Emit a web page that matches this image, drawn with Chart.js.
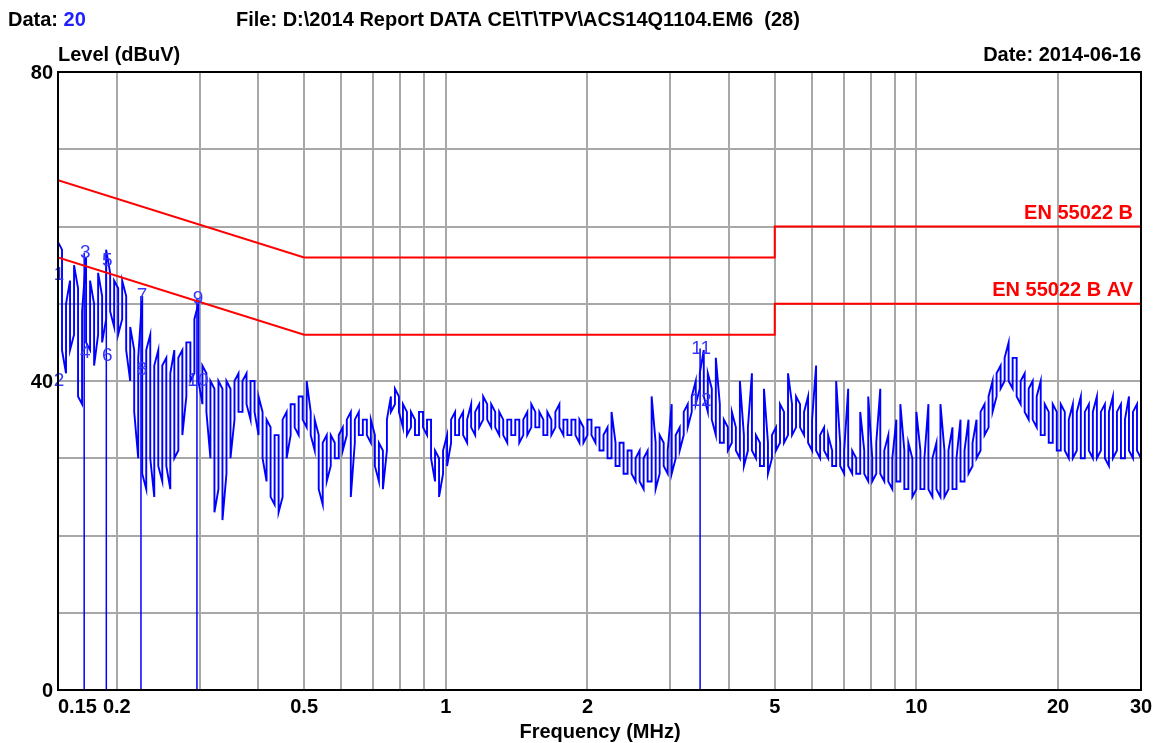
<!DOCTYPE html>
<html>
<head>
<meta charset="utf-8">
<script src="https://cdn.jsdelivr.net/npm/chart.js@4.4.1/dist/chart.umd.min.js"></script>
<style>
  html, body { margin: 0; padding: 0; background: #fff; }
</style>
</head>
<body>
<canvas id="emiChart" width="1157" height="743"></canvas>
<script>
// receiver sweep 0.15 - 30 MHz, one column per sweep step:
// highest and lowest level seen in each step (dBuV)
const sweepStart = 0.15;
const sweepStop = 30;
const peakLevels = [
  58, 57, 50, 53, 55, 52, 49, 56, 53, 50,
  54, 51, 57, 54, 53, 52, 53, 51, 47, 44,
  43, 51, 44, 46, 42, 44, 42, 43, 41, 44,
  43, 44, 45, 45, 48, 50, 42, 41, 40, 39,
  40, 39, 40, 39, 40, 41, 40, 41, 40, 40,
  38, 36, 35, 34, 33, 33, 35, 36, 37, 37,
  38, 38, 40, 36, 35, 33, 32, 33, 33, 32,
  33, 34, 35, 36, 35, 36, 35, 35, 35, 33,
  32, 31, 35, 38, 39, 38, 37, 36, 36, 35,
  36, 36, 35, 35, 31, 30, 31, 33, 35, 36,
  35, 36, 35, 37, 36, 37, 38, 37, 37, 36,
  36, 35, 35, 35, 35, 35, 35, 36, 37, 36,
  36, 35, 36, 35, 36, 37, 35, 35, 35, 35,
  35, 34, 35, 35, 34, 34, 33, 34, 36, 32,
  32, 32, 31, 31, 30, 31, 30, 31, 38, 32,
  33, 32, 31, 37, 33, 34, 36, 37, 38, 40,
  41, 44, 41, 39, 43, 37, 35, 34, 36, 34,
  40, 33, 34, 41, 33, 32, 39, 32, 33, 34,
  37, 36, 41, 37, 38, 37, 36, 38, 35, 42,
  33, 34, 33, 31, 40, 32, 31, 39, 31, 30,
  36, 31, 38, 30, 32, 39, 31, 33, 30, 35,
  37, 31, 32, 30, 36, 31, 30, 37, 30, 32,
  37, 31, 31, 34, 30, 35, 31, 35, 32, 35,
  36, 37, 38, 40, 41, 42, 43, 45, 43, 43,
  40, 41, 39, 40, 38, 40, 37, 36, 37, 36,
  37, 36, 35, 37, 36, 38, 36, 37, 36, 38,
  36, 37, 36, 38, 36, 37, 35, 38, 36, 37,
  36
];
const floorLevels = [
  52, 44, 41, 44, 46, 38, 37, 45, 44, 42,
  46, 45, 48, 49, 47, 46, 48, 44, 40, 36,
  30, 28, 26, 30, 25, 29, 27, 29, 26, 30,
  31, 33, 38, 40, 41, 40, 37, 36, 30, 23,
  26, 22, 28, 30, 35, 36, 36, 37, 35, 36,
  33, 30, 27, 25, 24, 23, 25, 30, 33, 34,
  33, 35, 34, 33, 31, 26, 24, 27, 29, 30,
  30, 31, 33, 25, 32, 33, 33, 33, 32, 29,
  27, 26, 31, 36, 37, 36, 34, 33, 34, 33,
  33, 34, 33, 30, 27, 25, 28, 29, 32, 33,
  33, 33, 32, 34, 33, 34, 35, 35, 34, 34,
  33, 33, 32, 33, 33, 32, 33, 33, 34, 34,
  34, 33, 33, 33, 34, 34, 33, 33, 33, 33,
  32, 32, 33, 33, 32, 31, 31, 30, 30, 29,
  29, 28, 28, 28, 27, 27, 26, 27, 27, 26,
  28, 29, 28, 28, 30, 31, 33, 34, 36, 37,
  39, 38, 36, 35, 33, 32, 32, 31, 32, 31,
  30, 29, 31, 31, 30, 29, 29, 28, 30, 31,
  32, 32, 33, 33, 34, 34, 33, 32, 31, 31,
  30, 31, 30, 29, 29, 29, 28, 29, 28, 28,
  28, 28, 27, 27, 28, 28, 27, 27, 26, 27,
  27, 26, 26, 25, 26, 26, 26, 26, 25, 26,
  25, 25, 26, 26, 26, 27, 27, 28, 29, 30,
  31, 33, 34, 36, 38, 39, 40, 40, 39, 38,
  37, 36, 35, 35, 34, 33, 33, 32, 32, 31,
  31, 31, 30, 30, 31, 30, 30, 31, 30, 30,
  31, 30, 29, 30, 31, 30, 30, 31, 30, 31,
  30
];

// EN 55022 class B limits
const limitFreq = [0.15, 0.5, 5, 5, 30];
const qpLimit = [66, 56, 56, 60, 60];
const avLimit = [56, 46, 46, 50, 50];

// markers: odd = QP reading, even = AV reading
const markerNo = [1, 2, 3, 4, 5, 6, 7, 8, 9, 10, 11, 12];
const markerFreq = [0.150, 0.150, 0.1705, 0.1705, 0.190, 0.190, 0.2251, 0.2251, 0.296, 0.296, 3.47, 3.47];
const markerLevel = [53.7, 40.0, 56.6, 43.7, 55.5, 43.3, 51.0, 41.4, 50.6, 40.0, 44.2, 37.4];

const xTicks = [0.15, 0.2, 0.3, 0.4, 0.5, 0.6, 0.7, 0.8, 0.9, 1, 2, 3, 4, 5, 6, 7, 8, 9, 10, 20, 30];
const xTickLabels = ['0.15', '0.2', '0.5', '1', '2', '5', '10', '20', '30'];
const yTickLabels = [0, 40, 80];

const BOLD = 'bold 20px Arial, "Liberation Sans", sans-serif';

// log spaced sweep steps, each drawn as a vertical stroke floor..peak
const stepCount = peakLevels.length;
const sweep = [];
peakLevels.forEach((pk, i) => {
  const f = sweepStart * Math.pow(sweepStop / sweepStart, i / (stepCount - 1));
  const pair = [{ x: f, y: floorLevels[i] }, { x: f, y: pk }];
  if (i % 2) pair.reverse();
  sweep.push(...pair);
});

const markerLines = markerNo
  .map((n, i) => ({ n, f: markerFreq[i], v: markerLevel[i] }))
  .filter(m => m.n % 2 === 1)
  .map(m => ({
    data: [{ x: m.f, y: 0 }, { x: m.f, y: m.v }],
    borderColor: '#0000ff',
    borderWidth: 1.5,
    pointRadius: 0
  }));

const chartText = {
  id: 'chartText',
  afterDatasetsDraw(chart) {
    const { ctx, scales: { x, y } } = chart;
    ctx.save();
    ctx.font = '19px Arial, "Liberation Sans", sans-serif';
    ctx.fillStyle = '#3535ff';
    ctx.textAlign = 'center';
    ctx.textBaseline = 'middle';
    markerNo.forEach((n, i) => {
      ctx.fillText(String(n), x.getPixelForValue(markerFreq[i]) + 1, y.getPixelForValue(markerLevel[i]));
    });
    ctx.restore();
  },
  afterDraw(chart) {
    const { ctx, chartArea: a, scales: { x, y } } = chart;
    ctx.save();
    ctx.strokeStyle = '#000';
    ctx.lineWidth = 2;
    ctx.strokeRect(a.left, a.top, a.right - a.left, a.bottom - a.top);

    ctx.font = BOLD;
    ctx.textBaseline = 'middle';
    ctx.fillStyle = '#000';

    // header
    ctx.textAlign = 'left';
    ctx.fillText('Data:', 8, 20);
    const w = ctx.measureText('Data: ').width;
    ctx.fillStyle = '#2020ff';
    ctx.fillText('20', 8 + w, 20);
    ctx.fillStyle = '#000';
    ctx.fillText('File: D:\\2014 Report DATA CE\\T\\TPV\\ACS14Q1104.EM6  (28)', 236, 20);
    ctx.fillText('Level (dBuV)', a.left, 55);
    ctx.textAlign = 'right';
    ctx.fillText('Date: 2014-06-16', a.right, 55);

    // y tick labels
    yTickLabels.forEach(v => ctx.fillText(String(v), a.left - 5, y.getPixelForValue(v) + 1));

    // x tick labels
    xTickLabels.forEach(t => {
      const v = parseFloat(t);
      ctx.textAlign = v === sweepStart ? 'left' : 'center';
      ctx.fillText(t, x.getPixelForValue(v), a.bottom + 17);
    });
    ctx.textAlign = 'center';
    ctx.fillText('Frequency (MHz)', 600, 732);

    // limit names
    ctx.fillStyle = '#ff0000';
    ctx.textAlign = 'right';
    ctx.fillText('EN 55022 B', a.right - 8, y.getPixelForValue(qpLimit[4]) - 13);
    ctx.fillText('EN 55022 B AV', a.right - 8, y.getPixelForValue(avLimit[4]) - 13);
    ctx.restore();
  }
};

new Chart(document.getElementById('emiChart'), {
  type: 'line',
  data: {
    datasets: [
      {
        data: limitFreq.map((f, i) => ({ x: f, y: qpLimit[i] })),
        borderColor: '#ff0000',
        borderWidth: 2,
        pointRadius: 0
      },
      {
        data: limitFreq.map((f, i) => ({ x: f, y: avLimit[i] })),
        borderColor: '#ff0000',
        borderWidth: 2,
        pointRadius: 0
      },
      ...markerLines,
      {
        data: sweep,
        borderColor: '#0000ff',
        borderWidth: 1.9,
        pointRadius: 0
      }
    ]
  },
  options: {
    responsive: false,
    animation: false,
    devicePixelRatio: 1,
    layout: { padding: { left: 58, right: 16, top: 72, bottom: 53 } },
    plugins: { legend: { display: false }, tooltip: { enabled: false } },
    scales: {
      x: {
        type: 'logarithmic',
        min: sweepStart,
        max: sweepStop,
        afterBuildTicks: scale => { scale.ticks = xTicks.map(v => ({ value: v })); },
        ticks: { display: false },
        grid: { color: '#a8a8a8', lineWidth: 2, drawTicks: false },
        border: { display: false }
      },
      y: {
        min: 0,
        max: 80,
        ticks: { display: false, stepSize: 10 },
        grid: { color: '#a8a8a8', lineWidth: 2, drawTicks: false },
        border: { display: false }
      }
    }
  },
  plugins: [chartText]
});
</script>
</body>
</html>
